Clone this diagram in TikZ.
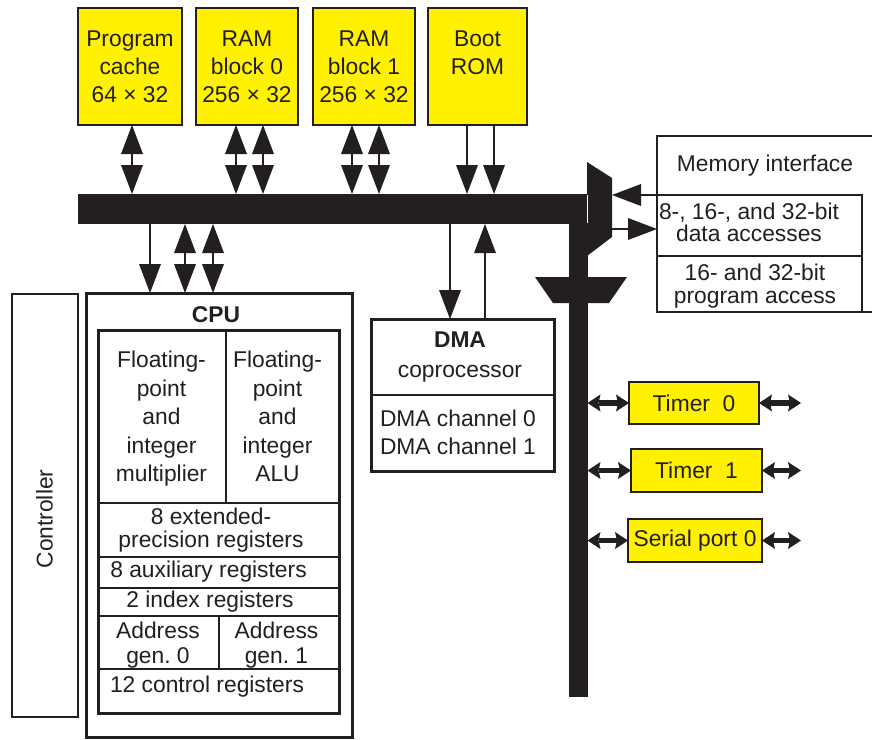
\documentclass[tikz,border=0pt]{standalone}
\usepackage{fontspec}
\setmainfont{Liberation Sans}
\usetikzlibrary{arrows.meta,calc}
\definecolor{ink}{HTML}{231F20}
\definecolor{chipyellow}{HTML}{FFF100}
\newcommand{\fsz}[1]{\fontsize{22.8}{#1}\selectfont\frenchspacing}
\tikzset{
  bighead/.tip={Triangle[length=29pt,width=22pt,line width=0pt]},
  fathead/.tip={Stealth[length=13pt,width=17pt,inset=2pt,line width=0pt]}
}
\begin{document}
\begin{tikzpicture}[x=1pt,y=-1pt,
  every node/.style={font=\fsz{28}, text=ink, inner sep=0pt, outer sep=0pt},
  ybox/.style={draw=ink, fill=chipyellow, line width=2pt, align=center},
  frame/.style={draw=ink, line width=#1},
  dbl/.style={draw=ink, line width=1.8pt, bighead-bighead},
  sarrow/.style={draw=ink, line width=1.6pt, -bighead},
  fat/.style={draw=ink, line width=5.5pt, fathead-fathead}
]
\fill[white] (0,0) rectangle (872,739);
\useasboundingbox (0,0) rectangle (872,739);

% column coordinates
\coordinate (c1) at (132,0);
\coordinate (c2) at (236,0);
\coordinate (c3) at (263,0);
\coordinate (c4) at (352,0);
\coordinate (c5) at (379,0);
\coordinate (c6) at (467,0);
\coordinate (c7) at (494,0);
\coordinate (d1) at (150,0);
\coordinate (d2) at (185,0);
\coordinate (d3) at (213,0);
\coordinate (e1) at (450,0);
\coordinate (e2) at (485,0);

% top memory blocks
\node[ybox, minimum width=104pt, minimum height=117pt] (pc) at (130,66.5) {Program\\cache\\64 × 32};
\node[ybox, minimum width=102pt, minimum height=117pt] (ram0) at (247,66.5) {RAM\\block 0\\256 × 32};
\node[ybox, minimum width=102pt, minimum height=117pt] (ram1) at (364,66.5) {RAM\\block 1\\256 × 32};
\node[ybox, minimum width=99pt, minimum height=117pt] (rom) at (477.5,66.5) {Boot\\ROM\\\mbox{}};

% buses
\node[fill=ink, minimum width=509pt, minimum height=30pt] (hbus) at (332.5,209) {};
\node[fill=ink, minimum width=18.5pt, minimum height=503pt] (vbus) at (578.25,445.5) {};
\fill[ink] (587,162) -- (612,178) -- (612,237) -- (587,256) -- cycle;
\fill[ink] (535,277) -- (627,277) -- (609,303) -- (553,303) -- cycle;
\draw[white, line width=0.8pt] (587,195) -- (587,223);
\coordinate (mxa) at (612,195);
\coordinate (mxb) at (612,229);

% memory interface
\draw[frame=1.6pt] (872,136) -| (657,312) -- (872,312);
\node[frame=1.6pt, minimum width=205pt, minimum height=61pt] (data) at (759.5,225.5) {};
\node[frame=1.6pt, minimum width=205pt, minimum height=56pt] (prog) at (759.5,284) {};
\node (memif) at (765,166) {Memory interface};
\node[align=center, font=\fsz{22}] (datatxt) at (749,222.7) {8-, 16-, and 32-bit\\data accesses};
\node[align=center, font=\fsz{23}] (progtxt) at (755,285.6) {16- and 32-bit\\program access};
\draw[sarrow] (data.north west) -- (mxa);
\draw[sarrow] (mxb) -- (data.west |- mxb);

% top arrows
\draw[dbl] (pc.south -| c1) -- (hbus.north -| c1);
\draw[dbl] (ram0.south -| c2) -- (hbus.north -| c2);
\draw[dbl] (ram0.south -| c3) -- (hbus.north -| c3);
\draw[dbl] (ram1.south -| c4) -- (hbus.north -| c4);
\draw[dbl] (ram1.south -| c5) -- (hbus.north -| c5);
\draw[sarrow] (rom.south -| c6) -- (hbus.north -| c6);
\draw[sarrow] (rom.south -| c7) -- (hbus.north -| c7);

% controller
\node[frame=2pt, minimum width=66pt, minimum height=423pt] (ctrl) at (45,505.5) {};
\node[rotate=90] (ctrltxt) at (44.5,519) {Controller};

% CPU
\node[frame=3pt, minimum width=266pt, minimum height=444pt] (cpu) at (219,515) {};
\node[font=\fsz{28}\bfseries] (cputxt) at (216,315) {CPU};
\draw[ink, line width=2pt] (226,330) -- (226,503);
\draw[ink, line width=2pt] (98,503) -- (339,503);
\draw[ink, line width=2pt] (98,557) -- (339,557);
\draw[ink, line width=2pt] (98,588) -- (339,588);
\draw[ink, line width=2pt] (98,616) -- (339,616);
\draw[ink, line width=2pt] (219,616) -- (219,669);
\draw[ink, line width=2pt] (98,669) -- (339,669);
\draw[ink, line width=3pt] (98,330) rectangle (339,713);
\node[align=center, font=\fsz{28.5}] (mult) at (161.5,419) {Floating-\\point\\and\\integer\\multiplier};
\node[align=center, font=\fsz{28.5}] (alu) at (277.5,416.7) {Floating-\\point\\and\\integer\\ALU};
\node[align=center, font=\fsz{23}] (ext) at (211,530) {8 extended-\\precision registers};
\node (aux) at (208.5,572) {8 auxiliary registers};
\node (idx) at (210,602) {2 index registers};
\node[align=center, font=\fsz{25}] (ag0) at (158,644.6) {Address\\gen. 0};
\node[align=center, font=\fsz{25}] (ag1) at (276.5,644.6) {Address\\gen. 1};
\node (ctl) at (207,687) {12 control registers};

\draw[sarrow] (hbus.south -| d1) -- (cpu.north -| d1);
\draw[dbl] (hbus.south -| d2) -- (cpu.north -| d2);
\draw[dbl] (hbus.south -| d3) -- (cpu.north -| d3);

% DMA
\node[frame=3pt, minimum width=183pt, minimum height=152pt] (dma) at (462.5,395) {};
\draw[ink, line width=2pt] (dma.west) -- (dma.east);
\node[align=center, font=\fsz{30}] (dmatitle) at (460,357) {\textbf{DMA}\\coprocessor};
\node[align=left, anchor=west] (dmach) at (380,432) {DMA channel 0\\DMA channel 1};
\draw[sarrow] (hbus.south -| e1) -- (dma.north -| e1);
\draw[sarrow] (dma.north -| e2) -- (hbus.south -| e2);

% peripherals
\node[ybox, minimum width=130pt, minimum height=42pt] (t0) at (694,403) {Timer\ \ 0};
\node[ybox, minimum width=131pt, minimum height=43pt] (t1) at (696.5,470.5) {Timer\ \ 1};
\node[ybox, minimum width=134pt, minimum height=43pt] (sp0) at (695,540.5) {Serial port 0};
\coordinate (t0r) at (801,403);
\coordinate (t1r) at (801,470.5);
\coordinate (sp0r) at (801,540.5);
\draw[fat] (vbus.east |- t0.west) -- (t0.west);
\draw[fat] (t0.east) -- (t0r);
\draw[fat] (vbus.east |- t1.west) -- (t1.west);
\draw[fat] (t1.east) -- (t1r);
\draw[fat] (vbus.east |- sp0.west) -- (sp0.west);
\draw[fat] (sp0.east) -- (sp0r);
\end{tikzpicture}
\end{document}
